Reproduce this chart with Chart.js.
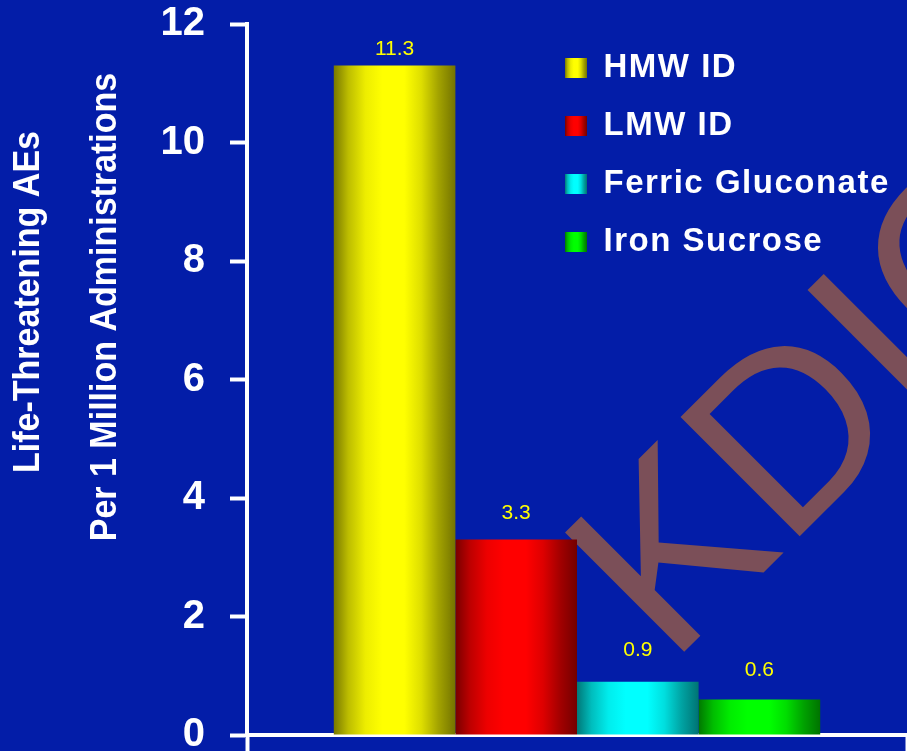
<!DOCTYPE html>
<html>
<head>
<meta charset="utf-8">
<title>Life-Threatening AEs per 1 Million Administrations</title>
<script src="https://cdn.jsdelivr.net/npm/chart.js@4.4.1/dist/chart.umd.min.js"></script>
<style>
  html, body { margin: 0; padding: 0; background: #031da8; overflow: hidden; }
  canvas { display: block; }
</style>
</head>
<body>
<canvas id="chart" width="907" height="751"></canvas>
<script>
// ---- data ----
const categories = [''];
const seriesNames = ['HMW ID', 'LMW ID', 'Ferric Gluconate', 'Iron Sucrose'];
const seriesValues = [11.3, 3.3, 0.9, 0.6];
const yTickValues = [0, 2, 4, 6, 8, 10, 12];
const axisTitleLines = ['Life-Threatening AEs', 'Per 1 Million Administrations'];
const watermarkText = 'KDIGO';

// ---- styling ----
const FONT = '"Liberation Sans", Arial, Helvetica, sans-serif';
const BG = '#031da8';
const baseRGB = [[255, 255, 0], [255, 0, 0], [0, 255, 255], [0, 255, 0]];
// brightness profile across a bar, giving the cylinder-like shading
const shadeStops = [[0, 0.47], [0.12, 0.74], [0.26, 0.93], [0.4, 1], [0.58, 1], [0.72, 0.87], [0.86, 0.64], [1, 0.45]];
const labelGap = [16, 26, 31, 29];
const legendBoxX = 565;
const legendTop = 26.5;
const legendLetterSpacing = '1.5px';

function shadedFill(ctx, rgb, x0, x1) {
  const g = ctx.createLinearGradient(x0, 0, x1, 0);
  shadeStops.forEach(([p, k]) => {
    g.addColorStop(p, `rgb(${Math.round(rgb[0] * k)},${Math.round(rgb[1] * k)},${Math.round(rgb[2] * k)})`);
  });
  return g;
}

const datasets = seriesNames.map((name, i) => ({
  label: name,
  data: [seriesValues[i]],
  borderWidth: 0,
  backgroundColor: (c) => {
    const rgb = baseRGB[c.datasetIndex];
    const el = c.element;
    if (!el || !isFinite(el.x) || !isFinite(el.width)) return `rgb(${rgb.join(',')})`;
    return shadedFill(c.chart.ctx, rgb, el.x - el.width / 2, el.x + el.width / 2);
  }
}));

const decor = {
  id: 'decor',
  afterInit(chart) {
    // slightly wider tracking for the legend text only
    const lg = chart.legend;
    const draw = lg.draw.bind(lg);
    lg.draw = (...args) => {
      const ctx = chart.ctx;
      ctx.save();
      if ('letterSpacing' in ctx) ctx.letterSpacing = legendLetterSpacing;
      draw(...args);
      ctx.restore();
    };
  },
  beforeDraw(chart) {
    const { ctx, width, height } = chart;
    ctx.save();
    ctx.fillStyle = BG;
    ctx.fillRect(0, 0, width, height);
    ctx.restore();

    // legend sits in the upper right of the plot
    const lg = chart.legend;
    const lbl = chart.options.plugins.legend.labels;
    lg.left = legendBoxX - lbl.padding;
    lg.right = width;
    lg.top = legendTop;
    lg.bottom = lg.top + lg.height;
    (lg.legendItems || []).forEach((it) => {
      it.fillStyle = shadedFill(ctx, baseRGB[it.datasetIndex], legendBoxX, legendBoxX + lbl.boxWidth);
      it.strokeStyle = 'rgba(0,0,0,0)';
      it.lineWidth = 0;
    });
  },
  beforeDatasetsDraw(chart) {
    const { ctx } = chart;
    ctx.save();
    ctx.translate(670, 666);
    ctx.rotate(-Math.PI / 4);
    ctx.font = `245px ${FONT}`;
    ctx.fillStyle = '#7b4f58';
    ctx.textAlign = 'left';
    ctx.textBaseline = 'alphabetic';
    ctx.fillText(watermarkText, 0, 0);
    ctx.restore();
  },
  afterDatasetsDraw(chart) {
    const { ctx } = chart;
    ctx.save();
    ctx.font = `21px ${FONT}`;
    ctx.fillStyle = '#ffff00';
    ctx.textAlign = 'center';
    ctx.textBaseline = 'middle';
    seriesValues.forEach((v, i) => {
      const bar = chart.getDatasetMeta(i).data[0];
      ctx.fillText(v.toFixed(1), bar.x, bar.y - labelGap[i]);
    });
    ctx.restore();
  },
  afterDraw(chart) {
    const { ctx } = chart;
    ctx.save();
    ctx.font = `bold 34px ${FONT}`;
    ctx.fillStyle = '#ffffff';
    ctx.textAlign = 'center';
    ctx.textBaseline = 'middle';
    [[29, 302], [106, 307]].forEach(([x, y], i) => {
      ctx.save();
      ctx.translate(x, y);
      ctx.rotate(-Math.PI / 2);
      ctx.scale(1, 1.1);
      ctx.fillText(axisTitleLines[i], 0, 0);
      ctx.restore();
    });
    ctx.restore();
  }
};

const chart = new Chart(document.getElementById('chart'), {
  type: 'bar',
  data: { labels: categories, datasets },
  options: {
    responsive: false,
    animation: false,
    devicePixelRatio: 1,
    layout: { padding: { top: 24, right: 0, bottom: 0, left: 0 } },
    datasets: { bar: { categoryPercentage: 0.737, barPercentage: 1 } },
    plugins: {
      legend: {
        position: 'chartArea',
        align: 'start',
        labels: {
          color: '#ffffff',
          font: { family: FONT, size: 33, weight: 'bold' },
          boxWidth: 22,
          boxHeight: 20,
          padding: 25
        }
      },
      tooltip: { enabled: false }
    },
    scales: {
      x: {
        type: 'category',
        grid: { display: true, drawOnChartArea: false, drawTicks: true, tickLength: 16, tickWidth: 4, tickColor: '#ffffff', offset: true },
        border: { display: true, color: '#ffffff', width: 4 },
        ticks: { display: false }
      },
      y: {
        min: yTickValues[0],
        max: yTickValues[yTickValues.length - 1],
        afterBuildTicks: (s) => { s.ticks = yTickValues.map((v) => ({ value: v })); },
        afterFit: (s) => { s.width = 247; s.paddingTop = 0; s.paddingBottom = 0; },
        grid: { display: true, drawOnChartArea: false, drawTicks: true, tickLength: 17, tickWidth: 4, tickColor: '#ffffff' },
        border: { display: true, color: '#ffffff', width: 4 },
        ticks: {
          color: '#ffffff',
          font: { family: FONT, size: 40, weight: 'bold' },
          padding: 25
        }
      }
    }
  },
  plugins: [decor]
});
// second pass so the shaded fills can use the laid-out bar geometry
chart.update();
</script>
</body>
</html>
